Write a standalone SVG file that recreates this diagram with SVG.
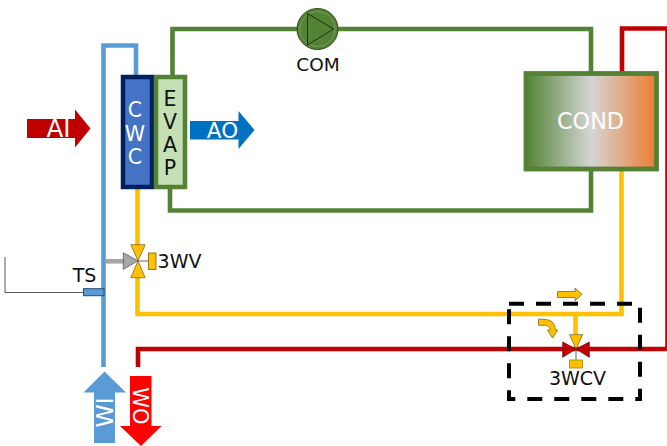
<svg xmlns="http://www.w3.org/2000/svg" width="667" height="446" viewBox="0 0 667 446">
<defs>
<linearGradient id="condGrad" x1="0" y1="0" x2="1" y2="0">
<stop offset="0" stop-color="#548235"/>
<stop offset="0.5" stop-color="#d5d5d5"/>
<stop offset="1" stop-color="#ed7d31"/>
</linearGradient>
</defs>
<style>
text{font-family:"DejaVu Sans",sans-serif;text-anchor:middle}
.pipe{fill:none;stroke-width:4.6}
.blue{stroke:#5b9bd5}.green{stroke:#548235}.red{stroke:#c00000}.yellow{stroke:#ffc000}
.w{fill:#fff}.k{fill:#111}
.v{stroke-width:0.8;stroke-linejoin:round}
.vy{fill:#ffc000;stroke:#7f6a20}.vr{fill:#c00000;stroke:#7a1010}.vg{fill:#a6a6a6;stroke:#595959}
.thin{fill:none;stroke:#7f7f7f;stroke-width:1.2}
</style>
<g id="connectors">
<path class="pipe green" d="M172.500 76V29H591V72"/>
<path class="pipe green" d="M591 170V210.500H170V188"/>
<path class="pipe blue" d="M103.500 367V45.500H136V76"/>
<path class="pipe yellow" d="M137.500 188V246"/>
<path class="pipe yellow" d="M137.500 276V314H621.500V170"/>
<path class="pipe yellow" d="M575.500 314V336"/>
<path class="pipe red" d="M622 72V28.500H667.500V349H138V367"/>
<path d="M105 261.300H124" fill="none" stroke="#a6a6a6" stroke-width="4.600"/>
<path d="M5 257V292.500H84" fill="none" stroke="#595959" stroke-width="1"/>
</g>
<g id="cwc">
<rect x="123" y="77" width="29" height="110" fill="#4472c4" stroke="#002060" stroke-width="4.500"/>
<text class="w" font-size="20.500" x="135" y="117">C</text>
<text class="w" font-size="20.500" x="135" y="141">W</text>
<text class="w" font-size="20.500" x="135" y="164">C</text>
</g>
<g id="evap">
<rect x="156" y="77" width="29" height="110" fill="#c5e0b4" stroke="#548235" stroke-width="4.500"/>
<text class="k" font-size="20.500" x="170" y="106">E</text>
<text class="k" font-size="20.500" x="170" y="129">V</text>
<text class="k" font-size="20.500" x="170" y="152">A</text>
<text class="k" font-size="20.500" x="170" y="175">P</text>
</g>
<g id="cond">
<rect x="526" y="73.500" width="130.500" height="95.500" fill="url(#condGrad)" stroke="#548235" stroke-width="4.800"/>
<text class="w" font-size="22.300" x="590.500" y="129">COND</text>
</g>
<g id="com">
<circle cx="317.500" cy="29" r="20.500" fill="#548235" stroke="#2f4a1e" stroke-width="1"/>
<circle cx="317.500" cy="29" r="17.500" fill="none" stroke="#7f9f6c" stroke-width="0.800"/>
<path d="M307.500 13.500V45L333.500 29Z" fill="#548235" stroke="#1e3012" stroke-width="1"/>
<text class="k" font-size="18.500" x="318" y="71">COM</text>
</g>
<g id="ai">
<path d="M27 119H75V109.500L90.500 128.500L75 147.500V138H27Z" fill="#c00000"/>
<text class="w" font-size="24.500" x="58.500" y="137">AI</text>
</g>
<g id="ao">
<path d="M190 121H238.500V111L254.500 130L238.500 149V139.500H190Z" fill="#0070c0"/>
<text class="w" font-size="21.500" x="222.500" y="138">AO</text>
</g>
<g id="wi">
<path d="M94 443V392.500H83.500L104.500 371.500L126 392.500H115V443Z" fill="#5b9bd5"/>
<text class="w" font-size="23.500" transform="translate(113 412.500) rotate(-90)">WI</text>
</g>
<g id="wo">
<path d="M130 376H151.500V426H161.500L141 446L120 426H130Z" fill="#ff0000"/>
<text class="w" font-size="21" transform="translate(133 406) rotate(90)">WO</text>
</g>
<g id="ts">
<rect x="83.500" y="288.700" width="20.500" height="7" fill="#5b9bd5" stroke="#1f4e79" stroke-width="1"/>
<text class="k" font-size="19" x="84.500" y="282">TS</text>
</g>
<g id="v3wv">
<path d="M138 261H148" class="thin"/>
<path class="v vy" d="M130.800 244.700H145.200L138 260.800Z"/>
<path class="v vy" d="M130.800 277.700H145.200L138 260.800Z"/>
<path class="v vg" d="M123.300 252.700V269.300L138 260.800Z"/>
<rect x="148.500" y="253" width="7.500" height="16.500" fill="#ffc000" stroke="#7f6000" stroke-width="0.800"/>
<text class="k" font-size="19" x="179.500" y="268">3WV</text>
</g>
<g id="v3wcv">
<path d="M576 349V360" class="thin"/>
<path class="v vy" d="M569.500 334.700H582.700L576 349Z"/>
<path class="v vr" d="M562.700 342V357.300L576 349Z"/>
<path class="v vr" d="M589.300 342V357.300L576 349Z"/>
<rect x="569.500" y="360" width="13" height="8" fill="#ffc000" stroke="#a08000" stroke-width="0.800"/>
<text class="k" font-size="19" x="577.500" y="385">3WCV</text>
</g>
<g id="flow-arrows">
<path class="v vy" d="M557.500 291.500H575V288L582 294.300L575 300.700V297.500H557.500Z"/>
<path class="v vy" d="M538.500 319.300H543C551 319.300 555.500 323 555.300 330H557.800L552.500 338L547.500 330H550C550 327 548 325.300 544 325.300H538.500Z"/>
</g>
<g id="boundary">
<rect x="509" y="303.700" width="131" height="95.300" fill="none" stroke="#000" stroke-width="4" stroke-dasharray="15 12"/>
</g>
</svg>
